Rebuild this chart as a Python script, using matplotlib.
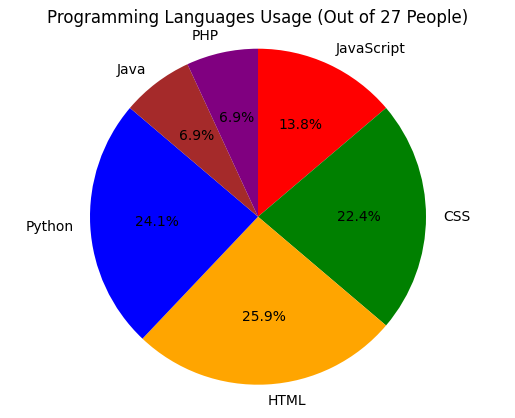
import matplotlib
matplotlib.use("Agg")
import matplotlib.pyplot as plt

languages = ["JavaScript", "CSS", "HTML", "Python", "Java", "PHP"]
counts = [8, 13, 15, 14, 4, 4]
colors = ["red", "green", "orange", "blue", "brown", "purple"]
title = "Programming Languages Usage (Out of 27 People)"

W, H = 515, 418
fig = plt.figure(figsize=(W / 100, H / 100), dpi=100)
R = 168
cx, cy = 258, 418 - 216.7
side = 2.5 * R
ax = fig.add_axes([(cx - side / 2) / W, (cy - side / 2) / H, side / W, side / H])
ax.pie(counts, labels=languages, colors=colors, autopct="%1.1f%%",
       startangle=90, counterclock=False)
ax.set_aspect("equal")
ax.set_xlim(-1.25, 1.25)
ax.set_ylim(-1.25, 1.25)
fig.text(cx / W, 1 - 18 / H, title, ha="center", va="center", fontsize=12)
fig.savefig("out.png", dpi=100)
